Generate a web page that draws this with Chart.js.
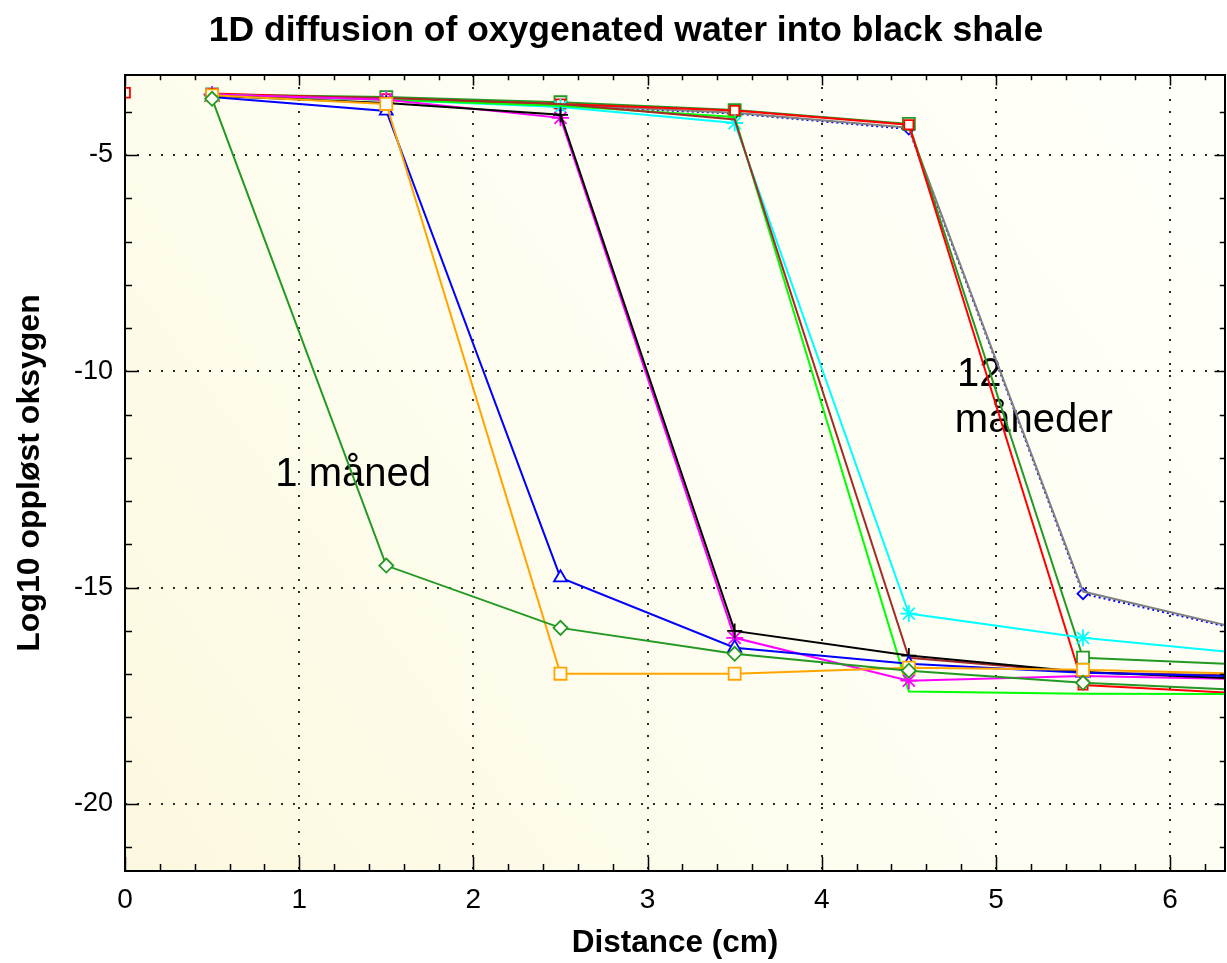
<!DOCTYPE html>
<html>
<head>
<meta charset="utf-8">
<title>1D diffusion of oxygenated water into black shale</title>
<script src="https://cdn.jsdelivr.net/npm/chart.js@4.4.1/dist/chart.umd.min.js"></script>
<style>
  html, body { margin: 0; padding: 0; background: #fff; }
  canvas { display: block; }
</style>
</head>
<body>
<canvas id="profile" width="1227" height="963"></canvas>
<script>
/* ─── Profiles: log10 dissolved O2 vs depth, one per month ─── */
const depthCm = [0.5, 1.5, 2.5, 3.5, 4.5, 5.5, 6.5];

const month1  = [-3.70, -14.49, -15.93, -16.53, -16.92, -17.20, -17.38];
const month2  = [-3.62, -3.82, -16.99, -16.99, -16.85, -16.90, -17.00];
const month3  = [-3.66, -3.98, -14.77, -16.39, -16.76, -16.97, -17.06];
const month4  = [-3.63, -3.80, -4.07, -16.00, -16.57, -16.95, -17.12];
const month5  = [-3.60, -3.72, -4.14, -16.16, -17.15, -17.04, -17.12];
const month6  = [-3.62, -3.68, -3.82, -4.18, -16.62, -16.96, -17.04];
const month7  = [-3.62, -3.72, -3.86, -4.12, -17.40, -17.45, -17.46];
const month8  = [-3.60, -3.72, -3.89, -4.26, -15.60, -16.16, -16.55];
const month9  = [-3.58, -3.70, -3.82, -3.97, -4.30, -17.25, -17.46];
const month10 = [-3.60, -3.66, -3.78, -3.96, -4.28, -16.62, -16.79];
const month11 = [-3.61, -3.70, -3.84, -4.02, -4.37, -15.09, -16.04];
const month12 = [-3.62, -3.71, -3.86, -4.04, -4.40, -15.14, -16.06];

// inflow boundary value at the surface
const boundaryX = [0];
const boundaryY = [-3.56];

const xTickValues = [0, 1, 2, 3, 4, 5, 6];
const yTickValues = [-20, -15, -10, -5];

const notes = [
    { text: '1 måned', x: 0.863, y: -12.64 },
    { text: '12', x: 4.776, y: -10.35 },
    { text: 'måneder', x: 4.764, y: -11.41 }
];

const TITLE = '1D diffusion of oxygenated water into black shale';

/* ─── Styling ─── */
const FONT = "'Liberation Sans', Arial, sans-serif";
const MARKER_FILL = '#fffff8';

const seriesStyles = [
    { label: '1',  data: month1,  color: '#229922', shape: 'rectRot',  radius: 7 },
    { label: '2',  data: month2,  color: '#ffa500', shape: 'rect',     radius: 8.5 },
    { label: '3',  data: month3,  color: '#0000ff', shape: 'triangle', radius: 7.5 },
    { label: '4',  data: month4,  color: '#000000', shape: 'cross',    radius: 7.5 },
    { label: '5',  data: month5,  color: '#ff00ff', shape: 'star',     radius: 8.5 },
    { label: '6',  data: month6,  color: '#a52a2a', shape: 'circle',   radius: 0 },
    { label: '7',  data: month7,  color: '#00ff00', shape: 'circle',   radius: 0 },
    { label: '8',  data: month8,  color: '#00ffff', shape: 'star',     radius: 8.5 },
    { label: '9',  data: month9,  color: '#ff0000', shape: 'rect',     radius: 6.5 },
    { label: '10', data: month10, color: '#229922', shape: 'rect',     radius: 8.5 },
    { label: '11', data: month11, color: '#808080', shape: 'circle',   radius: 0 },
    { label: '12', data: month12, color: '#0000ff', shape: 'rectRot',  radius: 5.5, dash: [2, 3] }
];

const datasets = seriesStyles.map(s => ({
    label: s.label,
    data: depthCm.map((x, i) => ({ x: x, y: s.data[i] })),
    borderColor: s.color,
    backgroundColor: MARKER_FILL,
    borderWidth: 2,
    borderDash: s.dash || [],
    pointStyle: s.shape,
    pointRadius: s.radius,
    pointBorderColor: s.color,
    pointBackgroundColor: MARKER_FILL,
    pointBorderWidth: 1.8,
    tension: 0,
    fill: false
}));

datasets.push({
    label: 'boundary',
    data: boundaryX.map((x, i) => ({ x: x, y: boundaryY[i] })),
    showLine: false,
    pointStyle: 'rect',
    pointRadius: 7,
    pointBorderColor: '#ff0000',
    pointBackgroundColor: MARKER_FILL,
    pointBorderWidth: 1.8
});

/* ─── Plugins ─── */
const plotBackground = {
    id: 'plotBackground',
    beforeDraw(chart) {
        const { ctx, chartArea: a } = chart;
        const g = ctx.createLinearGradient(a.right, a.top, a.left, a.bottom);
        g.addColorStop(0, '#fffffa');
        g.addColorStop(0.55, '#fefdf0');
        g.addColorStop(1, '#fcf8df');
        ctx.save();
        ctx.fillStyle = g;
        ctx.fillRect(a.left, a.top, a.right - a.left, a.bottom - a.top);
        ctx.restore();
    }
};

const plotNotes = {
    id: 'plotNotes',
    beforeDatasetsDraw(chart) {
        const { ctx, scales } = chart;
        ctx.save();
        ctx.font = '40px ' + FONT;
        ctx.fillStyle = '#000';
        ctx.textAlign = 'left';
        ctx.textBaseline = 'alphabetic';
        notes.forEach(n => {
            ctx.fillText(n.text, scales.x.getPixelForValue(n.x), scales.y.getPixelForValue(n.y));
        });
        ctx.restore();
    }
};

// frame with inward ticks on all four sides, distance labels, and the heading
const plotFrame = {
    id: 'plotFrame',
    afterDraw(chart) {
        const { ctx, chartArea: a, scales } = chart;
        ctx.save();
        ctx.strokeStyle = '#000';
        ctx.lineWidth = 1.5;
        ctx.beginPath();
        for (let i = 0; i * 0.2 <= scales.x.max + 1e-9; i++) {
            const px = Math.round(scales.x.getPixelForValue(i * 0.2)) + 0.5;
            const len = i % 5 === 0 ? 14 : 7;
            ctx.moveTo(px, a.bottom); ctx.lineTo(px, a.bottom - len);
            ctx.moveTo(px, a.top); ctx.lineTo(px, a.top + len * 0.75);
        }
        for (let v = Math.ceil(scales.y.min); v <= scales.y.max; v++) {
            const py = Math.round(scales.y.getPixelForValue(v)) + 0.5;
            const len = v % 5 === 0 ? 14 : 7;
            ctx.moveTo(a.left, py); ctx.lineTo(a.left + len, py);
            ctx.moveTo(a.right, py); ctx.lineTo(a.right - len * 0.75, py);
        }
        ctx.stroke();
        ctx.lineWidth = 2;
        ctx.strokeRect(a.left, a.top, a.right - a.left, a.bottom - a.top);

        ctx.fillStyle = '#000';
        ctx.font = '28px ' + FONT;
        ctx.textAlign = 'center';
        ctx.textBaseline = 'middle';
        xTickValues.forEach(v => {
            ctx.fillText(String(v), scales.x.getPixelForValue(v), a.bottom + 29);
        });

        ctx.font = 'bold 35.5px ' + FONT;
        ctx.fillText(TITLE, 626, 31);
        ctx.restore();
    }
};

/* ─── Chart ─── */
new Chart(document.getElementById('profile'), {
    type: 'line',
    data: { datasets: datasets },
    plugins: [plotBackground, plotNotes, plotFrame],
    options: {
        responsive: false,
        animation: false,
        events: [],
        layout: {
            autoPadding: false,
            padding: { left: 0, right: 2, top: 75, bottom: 0 }
        },
        plugins: {
            legend: { display: false },
            tooltip: { enabled: false },
            title: { display: false }
        },
        scales: {
            x: {
                type: 'linear',
                min: 0,
                max: 6.315,
                afterBuildTicks: s => { s.ticks = xTickValues.map(v => ({ value: v })); },
                afterFit: s => { s.height = 92; },
                grid: { color: '#2a2a2a', lineWidth: 2, drawTicks: false },
                border: { display: false, dash: [2, 10] },
                // labels are drawn by plotFrame so they reserve no side room
                ticks: { display: false },
                title: {
                    display: true,
                    text: 'Distance (cm)',
                    color: '#000',
                    font: { family: FONT, size: 31.5, weight: 'bold' },
                    padding: { top: 0, bottom: 1 }
                }
            },
            y: {
                type: 'linear',
                min: -21.55,
                max: -3.15,
                afterBuildTicks: s => { s.ticks = yTickValues.map(v => ({ value: v })); },
                afterFit: s => { s.width = 125; },
                grid: { color: '#2a2a2a', lineWidth: 2, drawTicks: false },
                border: { display: false, dash: [2, 10] },
                ticks: { color: '#000', font: { family: FONT, size: 27 }, padding: 12 },
                title: {
                    display: true,
                    text: 'Log10 oppløst oksygen',
                    color: '#000',
                    font: { family: FONT, size: 32, weight: 'bold' },
                    padding: { top: 11, bottom: 0 }
                }
            }
        }
    }
});
</script>
</body>
</html>
